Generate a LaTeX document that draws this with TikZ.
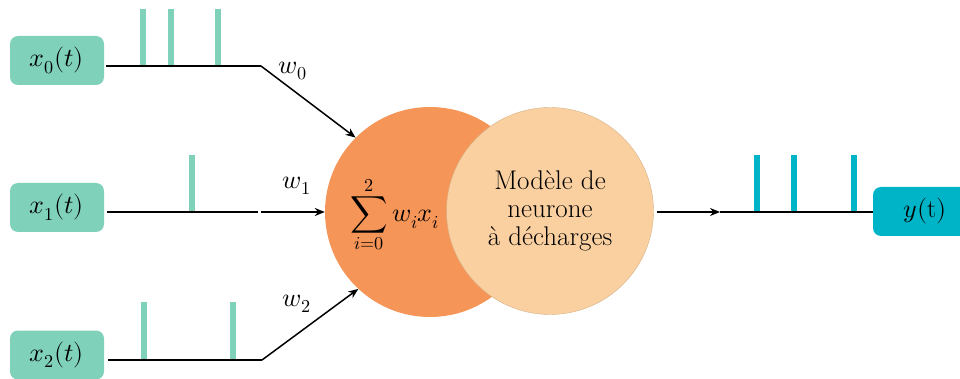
\documentclass[tikz,border=0pt]{standalone}
\usepackage{unicode-math}
\usetikzlibrary{arrows.meta}
\definecolor{mint}{RGB}{127,209,185}
\definecolor{orng}{RGB}{246,149,88}
\definecolor{peach}{RGB}{250,208,160}
\definecolor{cyanb}{RGB}{0,180,200}
\begin{document}
\begin{tikzpicture}[x=1pt,y=-1pt,
  inbox/.style={fill=mint, rounded corners=8pt, minimum width=94pt, minimum height=49pt, inner sep=0pt, font=\fontsize{26}{30}\selectfont},
  outbox/.style={fill=cyanb, rounded corners=8pt, minimum width=100pt, minimum height=49pt, inner sep=0pt, font=\fontsize{26}{30}\selectfont},
  wire/.style={line width=1.5pt, black},
  arr/.style={wire, -{Stealth[length=10pt,width=8pt]}},
  spkin/.style={fill=mint},
  spkout/.style={fill=cyanb},
  wlab/.style={font=\fontsize{26}{30}\selectfont, inner sep=0pt},
  ]
\useasboundingbox (0,0) rectangle (960,379);

% input boxes
\node[inbox] (x0) at (57,60.5) {$x_0(t)$};
\node[inbox] (x1) at (57,207.5) {$x_1(t)$};
\node[inbox] (x2) at (57,355) {$x_2(t)$};
\node[outbox] (y) at (923,211.5) {\hspace*{4pt}$y(\mathrm{t})$};

% neuron circles
\node[circle, fill=orng, minimum size=210pt, inner sep=0pt] (sum) at (430,212) {};
\node[circle, fill=peach, draw=peach!85!black, line width=0.4pt, minimum size=207pt, inner sep=0pt,
      align=center, font=\fontsize{27}{28}\selectfont] (neur) at (550,211) {Modèle de\\neurone\\à décharges};
\node[inner sep=0pt, font=\fontsize{26}{30}\selectfont] (sumtxt) at (395,215) {$\displaystyle\sum_{i=0}^{2} w_i x_i$};

% coordinates
\coordinate (c0) at (261,66);
\coordinate (g1a) at (258,212);
\coordinate (g1b) at (261,212);
\coordinate (c2) at (262,360);
\coordinate (o1) at (720,212);

% spikes (input)
\fill[spkin] (140,9) rectangle (146,66);
\fill[spkin] (168,9) rectangle (174,66);
\fill[spkin] (215,9) rectangle (221,66);
\fill[spkin] (189,155) rectangle (195,212);
\fill[spkin] (141,302) rectangle (147,360);
\fill[spkin] (230,302) rectangle (236,360);
% spikes (output)
\fill[spkout] (754,155) rectangle (760,212);
\fill[spkout] (791,155) rectangle (797,212);
\fill[spkout] (851,155) rectangle (857,212);

% wires
\draw[wire] ([xshift=2pt]x0.east |- c0) -- (c0);
\draw[arr] (c0) -- (sum.135);
\draw[wire] ([xshift=3pt]x1.east |- g1a) -- (g1a);
\draw[arr] (g1b) -- (sum.west);
\draw[wire] ([xshift=4pt]x2.east |- c2) -- (c2);
\draw[arr] (c2) -- (sum.227);
\draw[arr] ([xshift=3pt]neur.east |- o1) -- (o1);
\draw[wire] (o1) -- (y.west |- o1);

% weights
\node[wlab] (w0) at (293,71) {$w_0$};
\node[wlab] (w1) at (297,186) {$w_1$};
\node[wlab] (w2) at (297,304) {$w_2$};
\end{tikzpicture}
\end{document}
